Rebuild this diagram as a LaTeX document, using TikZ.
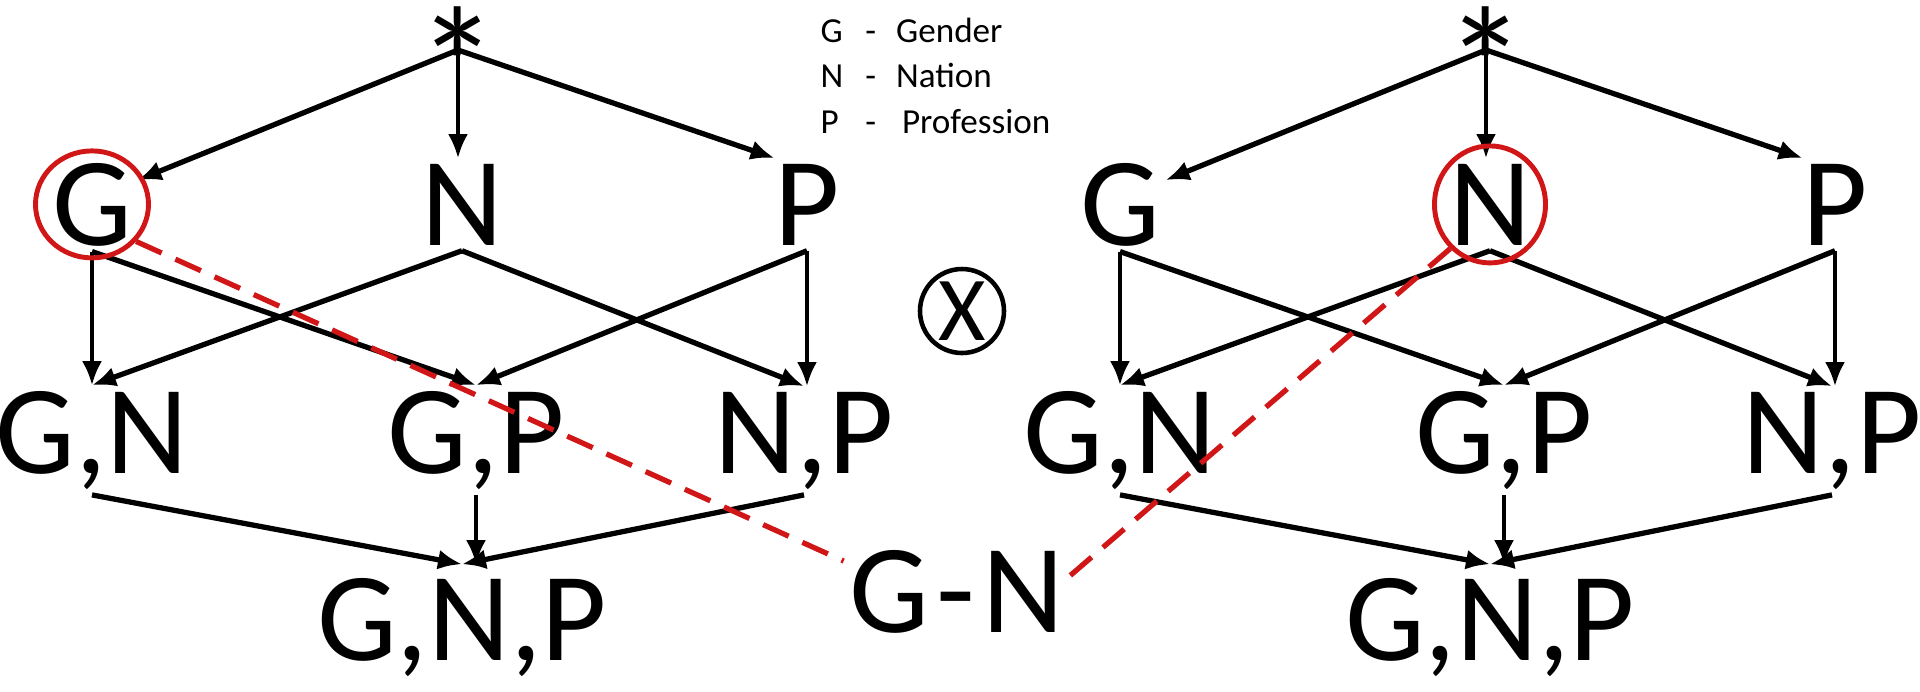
\documentclass[tikz,border=0pt]{standalone}
\usepackage{fontspec}
\setmainfont{Carlito}
\usetikzlibrary{arrows.meta, shapes.geometric}

\definecolor{markred}{RGB}{208,22,22}
\tikzset{
  attr/.style={font=\fontsize{36}{36}\selectfont, inner sep=0.5mm},
  edge/.style={line width=1.5pt, -{Latex[length=2.4mm, width=2mm]}},
  vedge/.style={line width=1.1pt, -{Latex[length=2.4mm, width=2mm]}},
  ring/.style={draw=markred, line width=1.4pt, ellipse, inner sep=0},
  link/.style={markred, line width=1.5pt, dash pattern=on 2.8mm off 1.5mm},
}

\begin{document}
\begin{tikzpicture}[x=0.1mm, y=-0.1mm]
\useasboundingbox (0,0) rectangle (1920,691);

% left lattice
\node[attr, anchor=north, inner sep=0, font=\fontsize{46}{46}\selectfont] (star1) at (458,6) {*};
\coordinate (top1) at (458,50);
\node[attr, anchor=base] (G1) at (92,245) {G};
\node[attr, anchor=base] (N1) at (462,245) {N};
\node[attr, anchor=base] (P1) at (807,245) {P};
\node[attr, anchor=base] (GN1) at (92,473) {G,N};
\node[attr, anchor=base] (GP1) at (476,473) {G,P};
\node[attr, anchor=base] (NP1) at (804,473) {N,P};
\node[attr, anchor=base, inner sep=1.3mm] (GNP1) at (462,660) {G,N,P};

\draw[edge] (top1) -- (G1.28);
\draw[vedge] (top1) -- (top1 |- N1.north);
\draw[edge] (top1) -- (P1.125);

\draw[vedge] (G1.south) -- (G1.south |- GN1.north);
\draw[edge] (G1.south) -- (GP1.north);
\draw[edge] (N1.south) -- (GN1.north);
\draw[edge] (N1.south) -- (NP1.north);
\draw[edge] (P1.south) -- (GP1.north);
\draw[vedge] (P1.south) -- (P1.south |- NP1.north);

\draw[edge] (GN1.south) -- (GNP1.north);
\draw[vedge] (GP1.south) -- (GP1.south |- GNP1.north);
\draw[edge] (NP1.south) -- (GNP1.north);

% right lattice
\node[attr, anchor=north, inner sep=0, font=\fontsize{46}{46}\selectfont] (star2) at (1486,6) {*};
\coordinate (top2) at (1486,50);
\node[attr, anchor=base] (G2) at (1120,245) {G};
\node[attr, anchor=base] (N2) at (1490,245) {N};
\node[attr, anchor=base] (P2) at (1835,245) {P};
\node[attr, anchor=base] (GN2) at (1120,473) {G,N};
\node[attr, anchor=base] (GP2) at (1504,473) {G,P};
\node[attr, anchor=base] (NP2) at (1832,473) {N,P};
\node[attr, anchor=base, inner sep=1.3mm] (GNP2) at (1490,660) {G,N,P};

\draw[edge] (top2) -- (G2.28);
\draw[vedge] (top2) -- (top2 |- N2.north);
\draw[edge] (top2) -- (P2.125);

\draw[vedge] (G2.south) -- (G2.south |- GN2.north);
\draw[edge] (G2.south) -- (GP2.north);
\draw[edge] (N2.south) -- (GN2.north);
\draw[edge] (N2.south) -- (NP2.north);
\draw[edge] (P2.south) -- (GP2.north);
\draw[vedge] (P2.south) -- (P2.south |- NP2.north);

\draw[edge] (GN2.south) -- (GNP2.north);
\draw[vedge] (GP2.south) -- (GP2.south |- GNP2.north);
\draw[edge] (NP2.south) -- (GNP2.north);

% key and product sign
\node[anchor=north west, inner sep=0, font=\fontsize{10}{12.9}\selectfont] (key) at (820,10)
  {\begin{tabular}{@{}l@{\hspace{2.2mm}}l@{\hspace{2mm}}l@{}}
   G & - & Gender\\
   N & - & Nation\\
   P & - & \,Profession
   \end{tabular}};
\node[draw, circle, line width=1.3pt, minimum size=8.4mm, inner sep=0,
  font=\fontsize{26}{26}\selectfont] (times) at (962,311) {X};

% picked attributes
\node[attr, anchor=base] (pair) at (957,632) {G\kern0.7mm-\kern0.8mmN};
\node[ring, minimum width=11.3mm, minimum height=10.7mm] (ringG) at (G1.center) {};
\node[ring, minimum width=11.1mm, minimum height=11.7mm] (ringN) at (N2.center) {};
\draw[link] (ringG.-40) -- (pair.165);
\draw[link] (ringN.-132) -- (pair.8);
\end{tikzpicture}
\end{document}
